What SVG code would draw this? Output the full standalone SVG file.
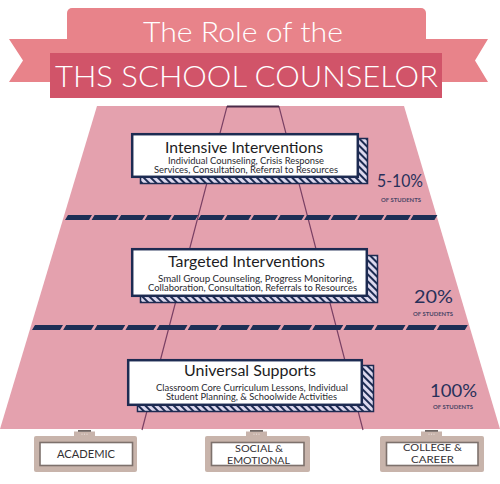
<svg xmlns="http://www.w3.org/2000/svg" width="500" height="484" viewBox="0 0 500 484">
<style>
.t{font-family:Lato,"Nunito","Liberation Sans",sans-serif;text-anchor:middle}
.title{fill:#ffffff;font-size:28px;font-weight:300}
.h{fill:#1c1c22;font-size:14.5px}
.s{fill:#2a2a30;font-size:8.6px}
.pct{fill:#28305a;font-size:17px}
.of{fill:#4a4566;font-size:5.4px;font-weight:bold}
.lab{fill:#333033;font-size:11px}
.lab2{fill:#333033;font-size:10px}
.main{fill:#ffffff;stroke:#1d2b52;stroke-width:2.5}
.shadow{fill:url(#stripes);stroke:#1d2b52;stroke-width:1.5}
.outer{fill:#c8b4ab}
.inner{fill:#ffffff;stroke:#7d716c;stroke-width:1.6}
.tabline{fill:#6f6562}
.dot{fill:#e8ddd8}
</style>
<defs>
<pattern id="stripes" patternUnits="userSpaceOnUse" width="5" height="5" patternTransform="rotate(-45)">
<rect width="5" height="5" fill="#dcd8ee"/>
<rect width="2" height="5" fill="#1d2b52"/>
</pattern>
</defs>

<g id="banner">
<polygon points="67,39 9,39 23,60.5 9,82 67,82" fill="#e8838a"/>
<polygon points="426,39 488,39 475,60.5 488,82 426,82" fill="#e8838a"/>
<path d="M67 82V13a5 5 0 0 1 5-5h349a5 5 0 0 1 5 5v69z" fill="#e8838a"/>
<rect x="50" y="53" width="392" height="45" fill="#d15469"/>
<text class="t title" x="243" y="42" textLength="200" lengthAdjust="spacingAndGlyphs">The Role of the</text>
<text class="t title" x="246.5" y="87" style="font-size:29px" textLength="383" lengthAdjust="spacingAndGlyphs">THS SCHOOL COUNSELOR</text>
</g>

<g id="pyramid">
<polygon points="97,106 404,106 500,429 0,429" fill="#e4a1ae"/>
</g>

<g id="connectors">
<path d="M142 430L227 106.5H279L363 430" fill="none" stroke="#7a4064" stroke-width="1.2"/>
<line x1="227" y1="106.5" x2="279" y2="106.5" stroke="#4a2a48" stroke-width="2"/>
</g>

<g id="bands" fill="#1d2f56">
<path d="M65 220l3-5h24l-3 5zm26.57 0l3-5h24l-3 5zm26.57 0l3-5h24l-3 5zm26.57 0l3-5h24l-3 5zm26.57 0l3-5h24l-3 5zm26.57 0l3-5h24l-3 5zm26.57 0l3-5h24l-3 5zm26.57 0l3-5h24l-3 5zm26.57 0l3-5h24l-3 5zm26.57 0l3-5h24l-3 5zm26.57 0l3-5h24l-3 5zm26.57 0l3-5h24l-3 5zm26.57 0l3-5h24l-3 5zm26.57 0l3-5h24l-3 5z"/>
<path d="M32 330l3-5h28l-3 5zm31.14 0l3-5h28l-3 5zm31.14 0l3-5h28l-3 5zm31.14 0l3-5h28l-3 5zm31.14 0l3-5h28l-3 5zm31.14 0l3-5h28l-3 5zm31.14 0l3-5h28l-3 5zm31.14 0l3-5h28l-3 5zm31.14 0l3-5h28l-3 5zm31.14 0l3-5h28l-3 5zm31.14 0l3-5h28l-3 5zm31.14 0l3-5h28l-3 5zm31.14 0l3-5h28l-3 5zm31.14 0l3-5h28l-3 5z"/>
</g>

<g id="intensive">
<rect class="shadow" x="140.5" y="138.5" width="227" height="45"/>
<rect class="main" x="132.2" y="134.2" width="225.6" height="42.6"/>
<text class="t h" x="244" y="153" textLength="158" lengthAdjust="spacingAndGlyphs">Intensive Interventions</text>
<text class="t s" x="246" y="164" textLength="156" lengthAdjust="spacingAndGlyphs">Individual Counseling, Crisis Response</text>
<text class="t s" x="246" y="173" textLength="184" lengthAdjust="spacingAndGlyphs">Services, Consultation, Referral to Resources</text>
</g>

<g id="targeted">
<rect class="shadow" x="140.5" y="255.5" width="237" height="47"/>
<rect class="main" x="132.2" y="249.2" width="234.6" height="46.6"/>
<text class="t h" x="246.5" y="267" textLength="157" lengthAdjust="spacingAndGlyphs">Targeted Interventions</text>
<text class="t s" x="256" y="282" textLength="196" lengthAdjust="spacingAndGlyphs">Small Group Counseling, Progress Monitoring,</text>
<text class="t s" x="252.5" y="291" textLength="209" lengthAdjust="spacingAndGlyphs">Collaboration, Consultation, Referrals to Resources</text>
</g>

<g id="universal">
<rect class="shadow" x="137.5" y="365.5" width="236" height="46"/>
<rect class="main" x="128.2" y="360.2" width="233.6" height="44.6"/>
<text class="t h" x="250" y="376" textLength="132" lengthAdjust="spacingAndGlyphs">Universal Supports</text>
<text class="t s" x="252" y="391" textLength="192" lengthAdjust="spacingAndGlyphs">Classroom Core Curriculum Lessons, Individual</text>
<text class="t s" x="251.5" y="400" textLength="171" lengthAdjust="spacingAndGlyphs">Student Planning,  &amp; Schoolwide Activities</text>
</g>

<g id="pct-intensive">
<text class="t pct" x="400" y="187" textLength="46" lengthAdjust="spacingAndGlyphs">5-10%</text>
<text class="t of" x="401" y="202" textLength="40" lengthAdjust="spacingAndGlyphs">OF STUDENTS</text>
</g>
<g id="pct-targeted">
<text class="t pct" x="433.5" y="303" textLength="39" lengthAdjust="spacingAndGlyphs">20%</text>
<text class="t of" x="433" y="316" textLength="40" lengthAdjust="spacingAndGlyphs">OF STUDENTS</text>
</g>
<g id="pct-universal">
<text class="t pct" x="453.5" y="397" textLength="47" lengthAdjust="spacingAndGlyphs">100%</text>
<text class="t of" x="453" y="409" textLength="40" lengthAdjust="spacingAndGlyphs">OF STUDENTS</text>
</g>

<g id="academic">
<rect class="outer" x="74" y="431.5" width="21" height="6"/>
<rect class="tabline" x="78" y="430" width="13" height="1.8"/>
<circle class="dot" cx="82" cy="434.2" r="0.6"/><circle class="dot" cx="84.5" cy="434.2" r="0.6"/><circle class="dot" cx="87" cy="434.2" r="0.6"/>
<rect class="outer" x="34" y="436" width="103" height="36" rx="2"/>
<rect class="inner" x="40" y="442.5" width="92.5" height="23"/>
<text class="t lab" x="86" y="458" textLength="58" lengthAdjust="spacingAndGlyphs">ACADEMIC</text>
</g>

<g id="social">
<rect class="outer" x="246" y="431.5" width="21" height="6"/>
<rect class="tabline" x="250" y="430" width="13" height="1.8"/>
<circle class="dot" cx="254" cy="434.2" r="0.6"/><circle class="dot" cx="256.5" cy="434.2" r="0.6"/><circle class="dot" cx="259" cy="434.2" r="0.6"/>
<rect class="outer" x="205" y="436" width="105" height="36" rx="2"/>
<rect class="inner" x="211.5" y="442.5" width="92.5" height="23"/>
<text class="t lab2" x="259" y="451.5" textLength="48" lengthAdjust="spacingAndGlyphs">SOCIAL &amp;</text>
<text class="t lab2" x="258.5" y="463.5" textLength="63" lengthAdjust="spacingAndGlyphs">EMOTIONAL</text>
</g>

<g id="college">
<rect class="outer" x="421" y="431.5" width="21" height="6"/>
<rect class="tabline" x="425" y="430" width="13" height="1.8"/>
<circle class="dot" cx="429" cy="434.2" r="0.6"/><circle class="dot" cx="431.5" cy="434.2" r="0.6"/><circle class="dot" cx="434" cy="434.2" r="0.6"/>
<rect class="outer" x="380" y="436" width="104" height="36" rx="2"/>
<rect class="inner" x="386.5" y="442.5" width="91.5" height="23"/>
<text class="t lab2" x="432.5" y="451" textLength="59" lengthAdjust="spacingAndGlyphs">COLLEGE &amp;</text>
<text class="t lab2" x="432.5" y="463" textLength="43" lengthAdjust="spacingAndGlyphs">CAREER</text>
</g>
</svg>
